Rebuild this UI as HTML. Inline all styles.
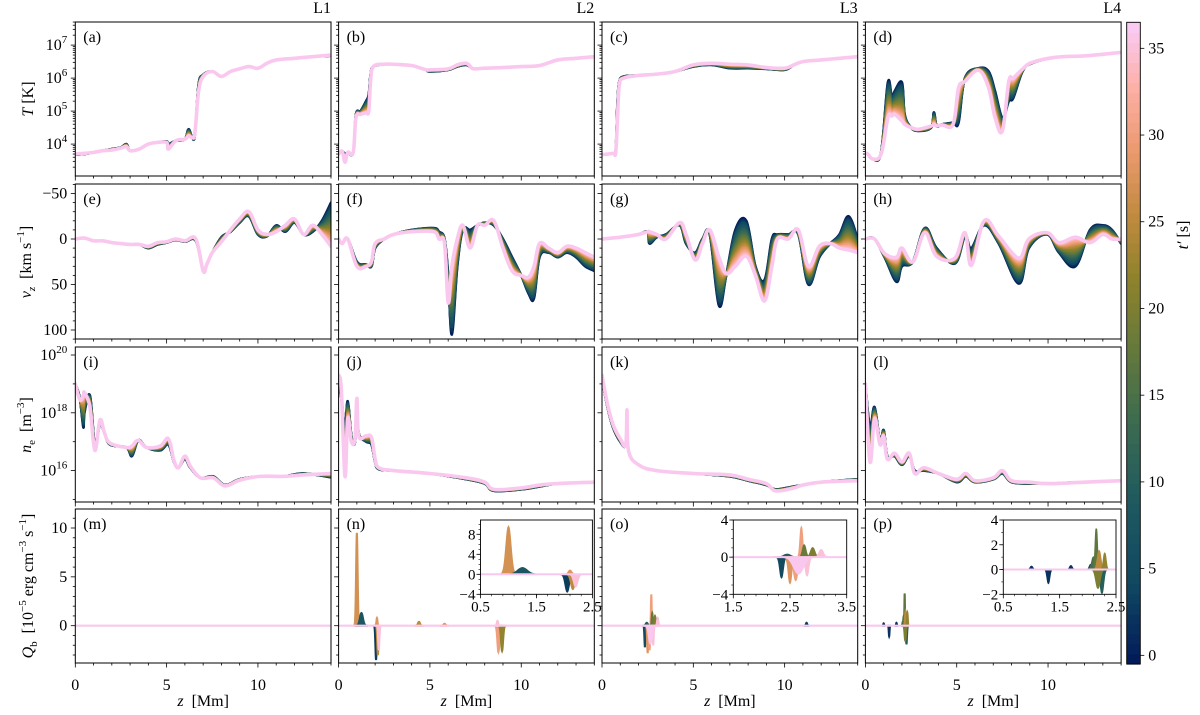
<!DOCTYPE html>
<html><head><meta charset="utf-8">
<style>
html,body{margin:0;padding:0;background:#fff;}
svg{display:block;font-family:"Liberation Serif",serif;}
</style></head>
<body>
<svg id="fig" width="1200" height="715" viewBox="0 0 1200 715" xmlns="http://www.w3.org/2000/svg"></svg>
<script>
// ---------------- data ----------------
const colTitles = ['L1','L2','L3','L4'];
const panelLetters = ['a','b','c','d','e','f','g','h','i','j','k','l','m','n','o','p'];
const timeSteps = [0,2,4,6,8,10,12,14,16,18,20,22,24,26,28,30,32,34,36];
const cbarTicks = [0,5,10,15,20,25,30,35];

// temperature (log10 T)
const aZ=[0,0.5,1,1.5,2,2.5,2.8,3,3.5,4,4.5,5,5.1,5.5,6,6.2,6.4,6.55,6.75,7.0,7.5,8,8.5,9,9.5,10,10.5,11,12,13,14];
const aLate=[3.7,3.72,3.75,3.8,3.82,3.88,3.93,3.8,3.85,4.0,4.05,4.05,3.85,4.1,4.15,4.25,4.2,4.35,5.6,6.05,6.2,6.05,6.2,6.28,6.35,6.3,6.45,6.55,6.6,6.65,6.7];
const aEarly=[3.68,3.7,3.75,3.8,3.85,3.9,4.0,3.8,3.85,4.0,4.05,4.08,4.0,4.1,4.15,4.45,4.2,4.3,5.8,6.1,6.2,6.05,6.2,6.28,6.35,6.3,6.45,6.55,6.6,6.65,6.68];
const bZ=[0,0.2,0.35,0.5,0.8,0.95,1.2,1.5,1.65,1.75,1.9,2.5,3,4,4.5,4.8,5,6,6.5,7,7.3,7.5,8,9,10,11,12,13,14];
const bLate=[3.7,3.78,3.45,3.75,3.75,4.8,4.9,4.95,5.0,5.9,6.35,6.42,6.42,6.38,6.3,6.25,6.25,6.28,6.4,6.45,6.3,6.28,6.3,6.32,6.35,6.38,6.55,6.6,6.65];
const bEarly=[3.7,3.78,3.7,3.75,3.75,4.9,5.0,5.3,5.5,6.1,6.35,6.42,6.42,6.38,6.3,6.25,6.2,6.25,6.35,6.4,6.3,6.28,6.3,6.32,6.35,6.38,6.55,6.6,6.65];
const cZ=[0,0.6,0.75,0.85,0.95,1.2,2,3,4,5,6,7,8,9,10,10.5,11,12,13,14];
const cLate=[3.68,3.72,3.75,4.8,5.8,6.0,6.08,6.12,6.2,6.4,6.45,6.42,6.4,6.32,6.3,6.4,6.5,6.55,6.6,6.65];
const cEarly=[3.68,3.72,3.8,5.3,5.9,6.05,6.08,6.12,6.2,6.35,6.4,6.3,6.3,6.28,6.25,6.4,6.5,6.55,6.6,6.65];
const dZ=[0,0.13,0.4,0.86,1.23,1.45,1.6,2.0,2.15,2.5,2.9,3.6,3.75,3.9,4.2,4.8,5.1,5.45,6.2,6.75,7.1,7.5,7.85,8.1,8.6,9.1,10.4,12.2,14];
const dLate=[3.72,3.7,3.55,3.7,4.8,4.85,4.9,4.7,4.6,4.5,4.45,4.55,4.6,4.55,4.58,4.6,5.7,5.9,6.24,5.7,4.8,4.4,5.9,6.0,6.27,6.47,6.63,6.68,6.78];
const dEarly=[3.72,3.7,3.55,3.75,5.87,5.4,5.6,5.87,4.9,4.5,4.4,4.5,4.96,4.55,4.6,4.65,4.65,6.0,6.3,6.2,5.6,4.8,5.3,5.4,6.2,6.45,6.63,6.68,6.78];

// vertical velocity (km/s)
const eZ=[0,0.5,1,1.5,2,2.5,3,3.5,4,4.5,5,5.5,6,6.6,7,7.2,7.5,8,8.5,9,9.5,10,10.5,11,11.5,12,12.5,13,13.5,14];
const eLate=[0,-1,2,2,4,5,6,6,8,4,3,0,2,0,35,28,15,3,-10,-22,-30,-10,-5,-8,-15,-22,-5,-15,-5,8];
const eEarly=[0,-1,2,2,4,5,6,6,10,6,4,1,3,2,35,28,15,-2,-8,-18,-25,-5,-3,-15,-8,-18,-5,-8,-20,-40];
const fZ=[0,0.2,0.5,1.0,1.5,1.8,2.0,2.5,3,4,5.2,5.5,5.8,6.0,6.2,6.5,6.8,7.2,7.6,8.0,8.5,9,9.5,10,10.4,10.7,11,11.5,12,12.5,13,13.5,14];
const fLate=[0,5,0,30,30,25,5,0,-5,-8,-8,0,5,70,30,0,-15,10,-15,-15,-20,10,35,40,42,30,5,10,15,8,10,15,20];
const fEarly=[0,5,0,25,28,30,10,0,-5,-10,-12,-8,0,40,105,30,-10,-10,-15,-18,-15,0,20,40,60,65,20,15,20,15,20,30,35];
const gZ=[0,1,2,2.5,2.6,3,3.5,4.25,4.6,5.1,5.5,5.9,6.4,6.8,7.3,7.9,8.4,8.9,9.3,9.6,10.2,10.75,11.3,11.9,12.5,13,13.5,14];
const gLate=[0,-2,-5,-8,-8,-5,0,-18,-5,23,5,-10,20,38,30,19,40,68,30,0,0,-10,30,8,5,10,12,15];
const gEarly=[0,-2,-5,-8,5,-2,-5,-15,5,15,0,-5,73,40,-10,-20,30,45,0,-5,-5,-5,50,20,5,-5,-25,0];
const hZ=[0,0.5,1.05,1.7,2.0,2.6,3.25,3.9,4.9,5.45,5.8,6.5,7.3,8.4,8.95,9.95,10.6,11.5,12.3,13,13.5,14];
const hLate=[0,0,16,20,10,25,-7,19,21,-7,29,-20,-3,21,0,-7,4,-2,4,-5,0,0];
const hEarly=[0,0,20,47,30,25,-12,10,27,-3,10,-15,5,49,10,-5,15,30,-10,-15,-10,5];

// electron density (log10 ne)
const iZ=[0,0.25,0.44,0.5,0.8,1.07,1.35,1.6,1.9,2.8,3.1,3.45,3.9,4.65,5.1,5.4,5.65,6.0,6.3,6.85,7.55,8.2,9.0,10.1,11.4,12.5,14];
const iLate=[19.0,18.45,18.6,18.7,18.2,16.7,17.75,17.3,16.95,16.8,16.85,17.05,16.8,16.85,17.1,16.35,16.1,16.5,16.15,15.75,15.75,15.47,15.67,15.8,15.8,15.85,15.9];
const iEarly=[19.0,18.5,17.5,18.0,18.6,16.9,17.6,17.3,16.9,16.8,16.5,17.05,16.8,16.7,16.9,16.3,16.1,16.4,16.1,15.75,15.8,15.5,15.7,15.8,15.8,15.9,15.77];
const jZ=[0,0.15,0.35,0.5,0.7,0.9,1.0,1.1,1.5,1.8,2.0,2.2,3,5,7,8,8.5,10,11,12,14];
const jLate=[19.3,18.8,15.8,17.8,17.0,17.1,18.5,17.2,17.2,17.15,16.4,16.1,16.0,15.9,15.75,15.6,15.35,15.4,15.5,15.55,15.6];
const jEarly=[19.0,18.5,17.5,18.4,17.2,17.0,18.4,17.3,17.0,16.9,16.3,16.05,16.0,15.9,15.7,15.55,15.3,15.35,15.45,15.55,15.6];
const kZ=[0,0.3,0.6,1.0,1.3,1.37,1.45,2,3,5,7,8,9,9.5,10.5,11,12,14];
const kLate=[19.3,18.3,17.6,17.1,16.9,18.1,16.7,16.2,16.0,15.9,15.85,15.7,15.55,15.3,15.4,15.5,15.6,15.65];
const kEarly=[19.2,18.2,17.5,17.0,16.9,18.0,16.7,16.2,16.0,15.9,15.8,15.65,15.5,15.35,15.45,15.5,15.6,15.7];
const lZ=[0,0.25,0.5,0.8,1.0,1.2,1.6,2.0,2.4,2.7,3.2,4,5,5.5,6,7,7.5,8,9,10,12,14];
const lLate=[19.0,16.3,17.8,16.9,17.2,16.4,16.6,16.3,16.6,15.9,16.1,15.9,15.7,15.9,15.65,15.75,16.0,15.65,15.6,15.55,15.6,15.65];
const lEarly=[19.0,17.5,18.2,17.0,17.4,16.5,16.5,16.2,16.5,16.0,16.0,15.9,15.6,15.8,15.6,15.7,15.9,15.6,15.55,15.55,15.6,15.65];

// beam heating events (Q_b): centre z, amplitude, half-width (Mm), time t'
const mQz=[], mQa=[], mQw=[], mQt=[];
const nQz=[1.0,1.25,2.05,2.15,2.2,2.1,4.4,5.8,8.75,8.95,8.7];
const nQa=[9.5,1.3,-3.5,-3.0,-2.5,0.8,0.4,0.2,-2.7,-2.6,0.5];
const nQw=[0.06,0.12,0.05,0.05,0.05,0.04,0.08,0.08,0.08,0.08,0.05];
const nQt=[27,8,3,25,35,28,25,28,30,22,35];
const oQz=[2.35,2.45,2.5,2.6,2.7,2.75,2.8,2.9,3.05,2.65,11.2];
const oQa=[-2.2,0.3,-2.8,-2.5,3.2,1.3,-2.0,1.0,0.8,-1.8,0.3];
const oQw=[0.04,0.08,0.04,0.05,0.03,0.04,0.04,0.05,0.05,0.12,0.05];
const oQt=[5,10,28,30,30,18,35,20,35,36,3];
const pQz=[1.0,1.3,1.7,2.05,2.1,2.15,2.2,2.25,2.3,2.18];
const pQa=[0.25,-1.1,0.3,0.4,1.0,3.3,1.5,-1.9,1.3,-1.5];
const pQw=[0.03,0.03,0.03,0.03,0.04,0.025,0.04,0.04,0.03,0.05];
const pQt=[2,2,2,5,15,17,25,10,22,20];

const curveSets=[
 [[aZ,aEarly,aLate],[bZ,bEarly,bLate],[cZ,cEarly,cLate],[dZ,dEarly,dLate]],
 [[eZ,eEarly,eLate],[fZ,fEarly,fLate],[gZ,gEarly,gLate],[hZ,hEarly,hLate]],
 [[iZ,iEarly,iLate],[jZ,jEarly,jLate],[kZ,kEarly,kLate],[lZ,lEarly,lLate]]
];
const qSets=[[mQz,mQa,mQw,mQt],[nQz,nQa,nQw,nQt],[oQz,oQa,oQw,oQt],[pQz,pQa,pQw,pQt]];

// ---------------- layout ----------------
const NS='http://www.w3.org/2000/svg';
const svg=document.getElementById('fig');
const colL=[75.3,338.6,602,865.4], PW=255.7;
const rowT=[22,184,347,509], rowB=[176,339,502,663];
const Z0=0, Z1=14;
const yFns=[
 v=>22+(7.7-v)*33,
 v=>239+v*0.91,
 v=>355+(20-v)*28.9,
 v=>625.7-v*9.77
];
const TMIN=-0.5, TMAX=36.5;
const stops=[[0,'#011959'],[0.125,'#104861'],[0.25,'#1e5960'],[0.375,'#3b6b50'],[0.5,'#687a3a'],[0.6,'#8e822c'],[0.7,'#c08b3f'],[0.8,'#eb9a6e'],[0.9,'#fdb0a6'],[1,'#faccfa']];
function hex(h){return [1,3,5].map(i=>parseInt(h.substr(i,2),16));}
function cmap(t){
  let f=(t-TMIN)/(TMAX-TMIN); f=Math.max(0,Math.min(1,f));
  for(let i=1;i<stops.length;i++){
    if(f<=stops[i][0]){
      const a=stops[i-1],b=stops[i];const u=(f-a[0])/(b[0]-a[0]);
      const ca=hex(a[1]),cb=hex(b[1]);
      return 'rgb('+ca.map((v,k)=>Math.round(v+(cb[k]-v)*u)).join(',')+')';
    }
  }
  return stops[stops.length-1][1];
}
function el(tag,attrs,parent){const e=document.createElementNS(NS,tag);for(const k in attrs)e.setAttribute(k,attrs[k]);(parent||svg).appendChild(e);return e;}
function txt(x,y,s,anchor,size,parent){const t=el('text',{x:x,y:y,'text-anchor':anchor||'middle','font-size':size||15,fill:'#000'},parent);t.textContent=s;return t;}
function xScale(c){return z=>colL[c]+(z-Z0)/(Z1-Z0)*PW;}
// smooth path (Catmull-Rom, reduced tension)
function smoothPath(P){
  let d='M'+P[0][0].toFixed(2)+','+P[0][1].toFixed(2);
  const k=0.18;
  for(let i=0;i<P.length-1;i++){
    const p0=P[Math.max(0,i-1)],p1=P[i],p2=P[i+1],p3=P[Math.min(P.length-1,i+2)];
    const c1=[p1[0]+(p2[0]-p0[0])*k,p1[1]+(p2[1]-p0[1])*k];
    const c2=[p2[0]-(p3[0]-p1[0])*k,p2[1]-(p3[1]-p1[1])*k];
    d+=' C'+c1[0].toFixed(2)+','+c1[1].toFixed(2)+' '+c2[0].toFixed(2)+','+c2[1].toFixed(2)+' '+p2[0].toFixed(2)+','+p2[1].toFixed(2);
  }
  return d;
}

const defs=el('defs',{});
for(let r=0;r<4;r++)for(let c=0;c<4;c++){
  const cp=el('clipPath',{id:'cp'+r+c},defs);
  el('rect',{x:colL[c],y:rowT[r],width:PW,height:rowB[r]-rowT[r]},cp);
}

for(let c=0;c<4;c++){
  const t=txt(colL[c]+PW,13,colTitles[c],'end',16);
  
  
}

function gaussPts(zc,a,w,xf,yf,lo,hi){
  const p=[];const n=40;
  for(let i=0;i<=n;i++){const z=zc-3*w+6*w*i/n;if(z<lo||z>hi)continue;p.push(xf(z).toFixed(2)+','+yf(a*Math.exp(-((z-zc)/w)*((z-zc)/w))).toFixed(2));}
  return p;
}

for(let r=0;r<4;r++)for(let c=0;c<4;c++){
  const idx=r*4+c;
  const g=el('g',{});
  
  
  const xf=xScale(c), yf=yFns[r];
  const cg=el('g',{'clip-path':'url(#cp'+r+c+')'},g);
  if(r<3){
    const [zs,ea,la]=curveSets[r][c];
    timeSteps.forEach((t,k)=>{
      const f=t/36;
      const P=zs.map((z,i)=>[xf(z),yf(ea[i]+(la[i]-ea[i])*f)]);
      const pl=el('path',{d:smoothPath(P),fill:'none',stroke:cmap(t),'stroke-width':k===timeSteps.length-1?3.6:2.6,'stroke-linejoin':'round','stroke-linecap':'round'},cg);
      
      
    });
  } else {
    const [qz,qa,qw,qt]=qSets[c];
    qz.forEach((z,i)=>{
      const p=gaussPts(z,qa[i],qw[i],xf,yf,Z0,Z1);
      const poly=el('polygon',{points:p.join(' '),fill:cmap(qt[i]),stroke:cmap(qt[i]),'stroke-width':2},cg);
      
      
    });
    const zl=el('line',{x1:xf(Z0),x2:xf(Z1),y1:yf(0),y2:yf(0),stroke:cmap(36),'stroke-width':2.2},cg);
    
    
  }
  el('rect',{x:colL[c],y:rowT[r],width:PW,height:rowB[r]-rowT[r],fill:'none',stroke:'#000','stroke-width':1},g);
  for(let z=0;z<=14;z++){
    const x=xf(z), major=(z%5===0);
    el('line',{x1:x,x2:x,y1:rowB[r],y2:rowB[r]+(major?4.5:2.5),stroke:'#000','stroke-width':0.8},g);
    if(major&&r===3){const t=txt(x,690,String(z),'middle',16,g);}
  }
  const yl=colL[c];
  const tick=(v,len)=>{const y=yf(v);if(y<rowT[r]-0.5||y>rowB[r]+0.5)return null;if(len>0)el('line',{x1:yl-len,x2:yl,y1:y,y2:y,stroke:'#000','stroke-width':0.8},g);return y;};
  if(r===0){
    for(let d=3;d<=7;d++){for(let m=1;m<10;m++){const v=d+Math.log10(m);const y=tick(v,m===1?4.5:2.5);
      if(m===1&&c===0&&y!==null&&d>=4){const t=txt(yl-8,y+5,'10','end',16,g);const s=el('tspan',{dy:-7,'font-size':11},t);s.textContent=String(d);}}}
  } else if(r===1){
    for(let v=-60;v<=110;v+=10){const maj=(v%50===0);const y=tick(v,maj?4.5:2.5);
      if(maj&&c===0&&y!==null){const t=txt(yl-8,y+5,v<0?'\u2212'+(-v):String(v),'end',16,g);}}
  } else if(r===2){
    for(let d=14;d<=20;d++){for(let m=1;m<10;m++){const v=d+Math.log10(m);const maj=(m===1&&d%2===0);const y=tick(v,maj?4.5:(m===1?2.5:0));
      if(maj&&c===0&&y!==null){const t=txt(yl-8,y+5,'10','end',16,g);const s=el('tspan',{dy:-7,'font-size':11},t);s.textContent=String(d);}}}
  } else {
    for(let v=-3;v<=11;v++){const maj=(v%5===0);const y=tick(v,maj?4.5:2.5);
      if(maj&&c===0&&y!==null){const t=txt(yl-8,y+5,String(v),'end',16,g);}}
  }
  const lab=txt(colL[c]+8,rowT[r]+20,'('+panelLetters[idx]+')','start',16,g);
  
  
}

// insets
const insets=[
 {c:1,x0:480.5,x1:592.4,y0:520,y1:594.3,zlo:0.5,zhi:2.5,vlo:-4,vhi:10.86,yt:[-4,0,4,8],xt:['0.5','1.5','2.5']},
 {c:2,x0:733.3,x1:846.7,y0:520,y1:594.3,zlo:1.5,zhi:3.5,vlo:-4,vhi:4,yt:[-4,0,4],xt:['1.5','2.5','3.5']},
 {c:3,x0:1003.3,x1:1116,y0:520,y1:594.3,zlo:0.5,zhi:2.5,vlo:-2,vhi:4,yt:[-2,0,2,4],xt:['0.5','1.5','2.5']}
];
insets.forEach((s,n)=>{
  const g=el('g',{});
  
  
  el('rect',{x:s.x0,y:s.y0,width:s.x1-s.x0,height:s.y1-s.y0,fill:'#fff'},g);
  const cp=el('clipPath',{id:'icp'+n},defs);
  el('rect',{x:s.x0,y:s.y0,width:s.x1-s.x0,height:s.y1-s.y0},cp);
  const cg=el('g',{'clip-path':'url(#icp'+n+')'},g);
  const xf=z=>s.x0+(z-s.zlo)/(s.zhi-s.zlo)*(s.x1-s.x0);
  const yf=v=>s.y1-(v-s.vlo)/(s.vhi-s.vlo)*(s.y1-s.y0);
  const [qz,qa,qw,qt]=qSets[s.c];
  qz.forEach((z,i)=>{
    const p=gaussPts(z,qa[i],qw[i],xf,yf,s.zlo-1,s.zhi+1);
    const poly=el('polygon',{points:p.join(' '),fill:cmap(qt[i]),stroke:cmap(qt[i]),'stroke-width':1.5},cg);
    
    
  });
  el('line',{x1:s.x0,x2:s.x1,y1:yf(0),y2:yf(0),stroke:cmap(36),'stroke-width':2},cg);
  el('rect',{x:s.x0,y:s.y0,width:s.x1-s.x0,height:s.y1-s.y0,fill:'none',stroke:'#000','stroke-width':0.9},g);
  s.yt.forEach(v=>{const y=yf(v);el('line',{x1:s.x0-4,x2:s.x0,y1:y,y2:y,stroke:'#000','stroke-width':0.8},g);
    const t=txt(s.x0-5,y+5,v<0?'\u2212'+(-v):String(v),'end',15,g);});
  for(let v=Math.ceil(s.vlo);v<=s.vhi;v++){const y=yf(v);el('line',{x1:s.x0-2,x2:s.x0,y1:y,y2:y,stroke:'#000','stroke-width':0.6},g);}
  s.xt.forEach((lbl,k)=>{const x=s.x0+k*(s.x1-s.x0)/2;el('line',{x1:x,x2:x,y1:s.y1,y2:s.y1+4,stroke:'#000','stroke-width':0.8},g);
    const t=txt(x,s.y1+17,lbl,'middle',15,g);});
  for(let k=1;k<10;k++){const x=s.x0+k*(s.x1-s.x0)/10;el('line',{x1:x,x2:x,y1:s.y1,y2:s.y1+2,stroke:'#000','stroke-width':0.6},g);}
});

for(let c=0;c<4;c++){
  const t=el('text',{x:colL[c]+PW/2,y:706,'text-anchor':'middle','font-size':16});
  
  
  const a=el('tspan',{'font-style':'italic'},t);a.textContent='z';
  const b=el('tspan',{},t);b.textContent='\u2002[Mm]';
}

function yTitle(x,y,parts,name){
  const t=el('text',{x:0,y:0,'text-anchor':'middle','font-size':16,transform:'translate('+x+','+y+') rotate(-90)'});
  
  
  parts.forEach(p=>{const s=el('tspan',{},t);if(p.i)s.setAttribute('font-style','italic');if(p.dy)s.setAttribute('dy',p.dy);if(p.fs)s.setAttribute('font-size',p.fs);s.textContent=p.s;});
}
yTitle(33,99,[{s:'T',i:1},{s:' [K]'}],'y-axis-title-temperature');
yTitle(31,262,[{s:'v',i:1},{s:'z',i:1,dy:4,fs:11},{s:'\u2002[km s',dy:-4},{s:'\u22121',dy:-7,fs:11},{s:']',dy:7}],'y-axis-title-velocity');
yTitle(31,425,[{s:'n',i:1},{s:'e',dy:4,fs:11},{s:'\u2002[m',dy:-4},{s:'\u22123',dy:-7,fs:11},{s:']',dy:7}],'y-axis-title-density');
yTitle(33,586,[{s:'Q',i:1},{s:'b',dy:4,fs:11},{s:'\u2002[10',dy:-4},{s:'\u22125',dy:-7,fs:11},{s:' erg cm',dy:7},{s:'\u22123',dy:-7,fs:11},{s:' s',dy:7},{s:'\u22121',dy:-7,fs:11},{s:']',dy:7}],'y-axis-title-heating');

const cb=el('g',{});


const cbX=1126.7, cbW=13.6, cbTop=22.3, cbBot=664;
const cbY=t=>cbBot-(t-TMIN)/(TMAX-TMIN)*(cbBot-cbTop);
const nb=64;
for(let i=0;i<nb;i++){
  const t0=TMIN+(TMAX-TMIN)*i/nb, t1=TMIN+(TMAX-TMIN)*(i+1)/nb;
  el('rect',{x:cbX,y:cbY(t1),width:cbW,height:cbY(t0)-cbY(t1)+0.6,fill:cmap((t0+t1)/2)},cb);
}
el('rect',{x:cbX,y:cbTop,width:cbW,height:cbBot-cbTop,fill:'none',stroke:'#000','stroke-width':0.9},cb);
cbarTicks.forEach(v=>{const y=cbY(v);el('line',{x1:cbX+cbW,x2:cbX+cbW+4,y1:y,y2:y,stroke:'#000','stroke-width':0.8},cb);
  const t=txt(cbX+cbW+8,y+5,String(v),'start',16,cb);});
const cbl=el('text',{x:0,y:0,'text-anchor':'middle','font-size':16,transform:'translate(1188,235) rotate(-90)'});


{const a=el('tspan',{'font-style':'italic'},cbl);a.textContent='t\u2032';const b=el('tspan',{},cbl);b.textContent=' [s]';}
</script>
</body></html>
